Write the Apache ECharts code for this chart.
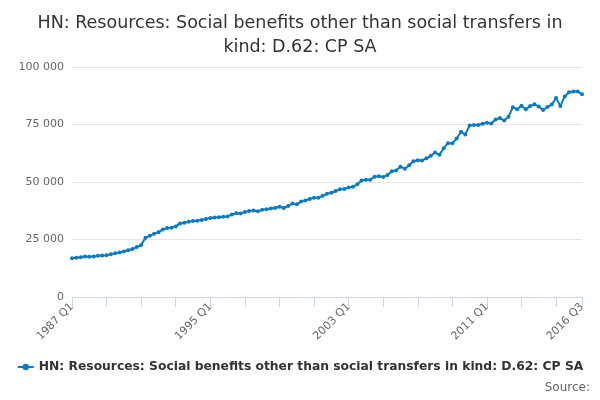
<!DOCTYPE html>
<html><head><meta charset="utf-8">
<script src="https://cdn.jsdelivr.net/npm/echarts@6/dist/echarts.min.js"></script>
<style>html,body{margin:0;padding:0;background:#fff}#c{width:600px;height:400px}</style>
</head><body><div id="c"></div>
<script>
const years = [];
for (let y = 1987; y <= 2016; y++) for (let q = 1; q <= 4; q++) { if (y === 2016 && q > 3) break; years.push(y + ' Q' + q); }
const values = [
16800,17100,17300,17600,17500,17600,17900,18000,18200,18600,19000,19400,19800,20300,20900,21700,
22600,25800,26600,27500,28200,29300,30000,30100,30700,32000,32300,32700,33000,33200,33500,33900,
34300,34600,34700,34900,35000,35900,36400,36300,37000,37400,37600,37300,37900,38200,38500,38700,
39200,38700,39600,40600,40300,41500,42000,42600,43200,43100,44000,44900,45300,46100,46800,47000,
47600,47900,49000,50600,51000,51000,52300,52500,52200,53000,54700,55000,56600,55800,57300,59000,
59500,59400,60300,61400,62800,61800,64700,66900,66800,68900,71800,70700,74600,74800,74800,75300,
75800,75400,77200,77800,76700,78400,82500,81600,83200,81600,83000,83800,82800,81300,82600,83700,
86500,83000,87200,89000,89300,89300,88200
];
const chart = echarts.init(document.getElementById('c'));
const labelIdx = new Set([0,32,64,96,years.length-1]);
chart.setOption({
  title:{text:'HN: Resources: Social benefits other than social transfers in\nkind: D.62: CP SA',left:'center',top:6,
    textStyle:{fontFamily:'DejaVu Sans',fontSize:17.5,fontWeight:'normal',color:'#333',lineHeight:24}},
  grid:{left:72,right:18,top:67,bottom:103},
  xAxis:{type:'category',data:years,boundaryGap:false,
    axisLine:{lineStyle:{color:'#ccd6eb'}},
    axisTick:{alignWithLabel:true,length:10,lineStyle:{color:'#ccd6eb'},interval:(i)=>i%8===0||i===years.length-1},
    axisLabel:{interval:(i)=>labelIdx.has(i),rotate:45,color:'#666',fontFamily:'DejaVu Sans',fontSize:11,margin:8},
    splitLine:{show:false}},
  yAxis:{type:'value',min:0,max:100000,interval:25000,
    axisLabel:{color:'#666',fontFamily:'DejaVu Sans',fontSize:11,formatter:v=>v===0?'0':String(v).replace(/\B(?=(\d{3})+(?!\d))/g,' ')},
    splitLine:{lineStyle:{color:'#e6e6e6'}},axisLine:{show:false},axisTick:{show:false}},
  legend:{bottom:22,left:'center',itemWidth:16,itemHeight:8,
    textStyle:{fontFamily:'DejaVu Sans',fontSize:12.3,fontWeight:'bold',color:'#333'}},
  graphic:[{type:'text',right:10,bottom:6,style:{text:'Source:',fontFamily:'DejaVu Sans',fontSize:12,fill:'#666'}}],
  series:[{name:'HN: Resources: Social benefits other than social transfers in kind: D.62: CP SA',
    type:'line',data:values,symbol:'circle',symbolSize:4,showAllSymbol:true,
    lineStyle:{color:'#0a7bc1',width:2},itemStyle:{color:'#0a7bc1'}}]
});
</script></body></html>
